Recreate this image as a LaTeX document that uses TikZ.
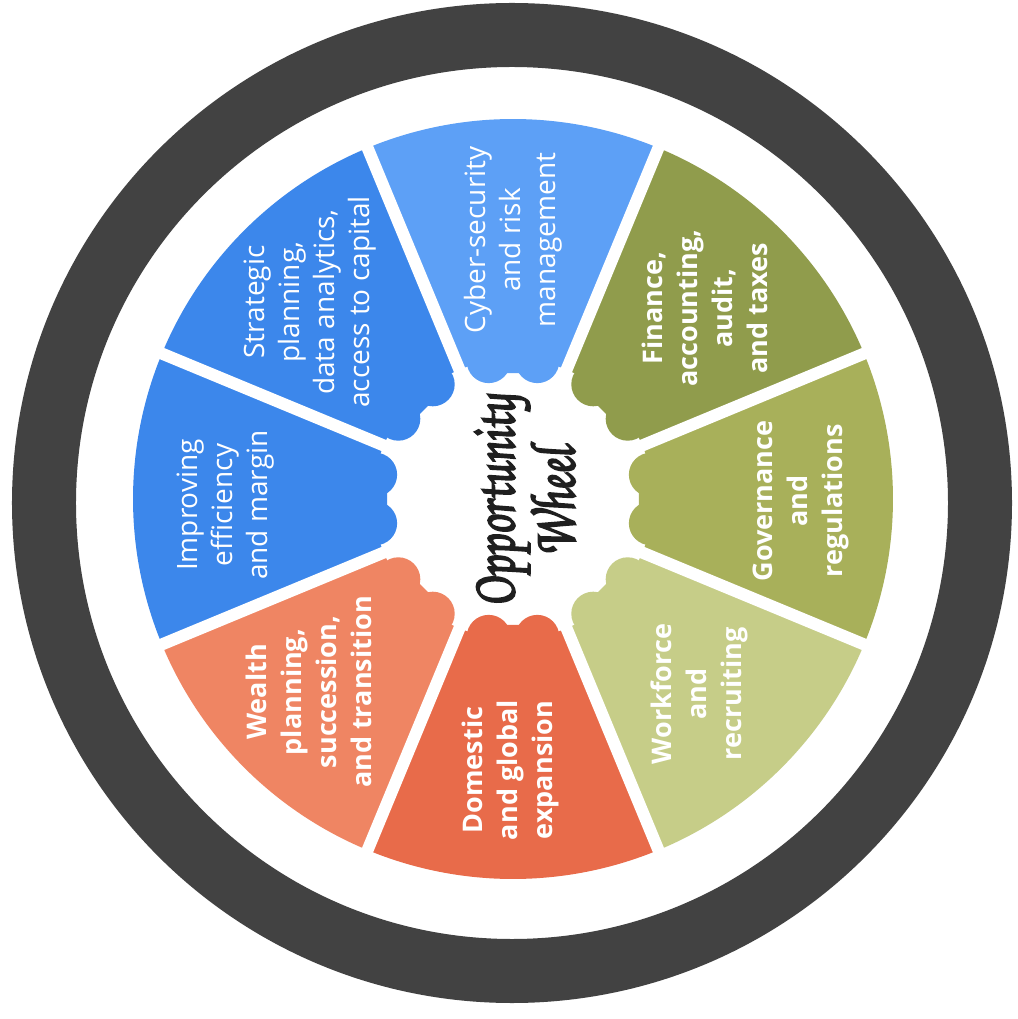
\documentclass[tikz,border=0pt]{standalone}
\usepackage{fontspec}
\newfontfamily\labfont{Open Sans}
\newfontfamily\hand[FakeBold=2.5,FakeStretch=0.75,FakeSlant=-0.12]{TeX Gyre Chorus}
\definecolor{ringc}{HTML}{424242}
\definecolor{strat}{HTML}{3C87EB}
\definecolor{impr}{HTML}{3C87EB}
\definecolor{cyber}{HTML}{5DA0F6}
\definecolor{fin}{HTML}{909C4C}
\definecolor{gov}{HTML}{A8B05A}
\definecolor{work}{HTML}{C6CD88}
\definecolor{dom}{HTML}{E86B4A}
\definecolor{wealth}{HTML}{EF8563}
\begin{document}
\begin{tikzpicture}[x=1pt,y=1pt,
  lab/.style={text=white, align=center, rotate=90, inner sep=0pt,
    font=\labfont\fontsize{28}{35}\selectfont},
  labb/.style={lab, font=\labfont\bfseries\fontsize{27}{35}\selectfont},
  title/.style={align=center, rotate=90, inner sep=0pt, text=black!88,
    font=\hand\fontsize{64}{56}\selectfont}]
\useasboundingbox[fill=white] (-513,-520) rectangle (504,499);
% outer ring
\draw[ringc, line width=64pt] (-1,-4) circle (468);
% segments
\foreach \a/\c in {90/cyber,45/fin,0/gov,-45/work,-90/dom,-135/wealth,180/impr,135/strat}{
  \fill[\c] (\a-22.5:140) arc[start angle=\a-22.5, end angle=\a+22.5, radius=140]
     -- (\a+22.5:380) arc[start angle=\a+22.5, end angle=\a-22.5, radius=380] -- cycle;
  \fill[\c] (\a-10:126) arc[start angle=\a-10, end angle=\a+10, radius=126]
     -- (\a+10:141) arc[start angle=\a+10, end angle=\a-10, radius=141] -- cycle;
  \fill[\c] (\a-10:140) circle (22);
  \fill[\c] (\a+10:140) circle (22);
}
% gaps
\foreach \b in {22.5,67.5,112.5,157.5,202.5,247.5,292.5,337.5}{
  \draw[white, line width=12pt] (\b:100) -- (\b:400);
}
% labels
\node[lab] (cybertxt) at (0,259) {Cyber-security\\and risk\\management};
\node[lab] (strattxt) at (-203,197) {Strategic\\planning,\\data analytics,\\access to capital};
\node[lab] (imprtxt) at (-287,-6) {Improving\\efficiency\\and margin};
\node[labb] (wealthtxt) at (-204,-193) {Wealth\\planning,\\succession,\\and transition};
\node[labb] (domtxt) at (-3,-271) {Domestic\\and global\\expansion};
\node[labb] (worktxt) at (186,-195) {Workforce\\and\\recruiting};
\node[labb] (govtxt) at (288,-2) {Governance\\and\\regulations};
\node[labb] (fintxt) at (192,191) {Finance,\\accounting,\\audit,\\and taxes};
% centre title
\node[title] (wheeltitle) at (12,-1) {Opportunity\\Wheel};
\end{tikzpicture}
\end{document}
